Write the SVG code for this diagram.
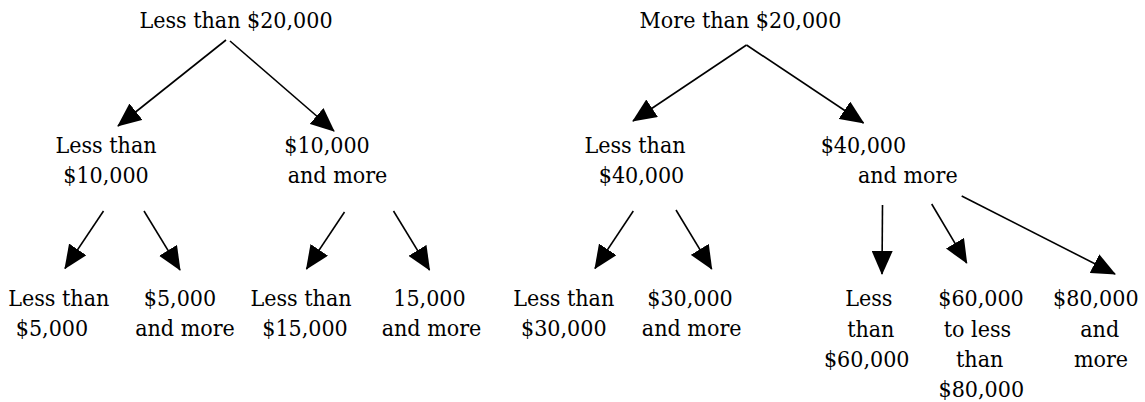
<svg xmlns="http://www.w3.org/2000/svg" width="1145" height="402" viewBox="0 0 1145 402">
  <style>
    text { font-family: 'DejaVu Serif Condensed', 'DejaVu Serif', serif; font-stretch: condensed; font-size: 23px; fill: #000; text-anchor: middle; }
    .edge { stroke: #000; stroke-width: 1.6; fill: none; marker-end: url(#arrow); }
  </style>
  <defs>
    <marker id="arrow" viewBox="0 0 24 21" refX="23" refY="10.5" markerWidth="24" markerHeight="21" markerUnits="userSpaceOnUse" orient="auto">
      <path d="M0,0 L24,10.5 L0,21 Z" fill="#000"/>
    </marker>
  </defs>
  <rect width="1145" height="402" fill="#fff"/>

  <g id="connectors">
    <line class="edge" x1="226" y1="40" x2="118" y2="126"/>
    <line class="edge" x1="230" y1="41" x2="334" y2="131"/>
    <line class="edge" x1="746.5" y1="45" x2="633" y2="121"/>
    <line class="edge" x1="746.5" y1="45" x2="863.5" y2="123"/>
    <line class="edge" x1="103.5" y1="211" x2="65" y2="268.5"/>
    <line class="edge" x1="144" y1="211" x2="180" y2="270"/>
    <line class="edge" x1="344.5" y1="212" x2="306.5" y2="269"/>
    <line class="edge" x1="393.5" y1="211" x2="429.5" y2="270"/>
    <line class="edge" x1="633.3" y1="211" x2="595" y2="268.5"/>
    <line class="edge" x1="676" y1="210" x2="711.7" y2="269"/>
    <line class="edge" x1="882.5" y1="205" x2="882" y2="274"/>
    <line class="edge" x1="931.7" y1="204" x2="966.7" y2="263"/>
    <line class="edge" x1="961.7" y1="196" x2="1115" y2="274"/>
  </g>

  <g id="n_lt20"><text x="236" y="28">Less than $20,000</text></g>
  <g id="n_mt20"><text x="740.5" y="28">More than $20,000</text></g>

  <g id="n_lt10"><text x="106" y="153">Less than</text><text x="106" y="183">$10,000</text></g>
  <g id="n_ge10"><text x="327" y="153">$10,000</text><text x="337.5" y="183">and more</text></g>
  <g id="n_lt40"><text x="635" y="153">Less than</text><text x="641.5" y="183">$40,000</text></g>
  <g id="n_ge40"><text x="863.4" y="153">$40,000</text><text x="907.8" y="183">and more</text></g>

  <g id="n_lt5"><text x="58.8" y="305.5">Less than</text><text x="52" y="336">$5,000</text></g>
  <g id="n_ge5"><text x="180" y="305.5">$5,000</text><text x="185" y="336">and more</text></g>
  <g id="n_lt15"><text x="301" y="305.5">Less than</text><text x="305" y="336">$15,000</text></g>
  <g id="n_ge15"><text x="429.5" y="305.5">15,000</text><text x="431.5" y="336">and more</text></g>
  <g id="n_lt30"><text x="563.7" y="305.5">Less than</text><text x="563.8" y="336">$30,000</text></g>
  <g id="n_ge30"><text x="690" y="305.5">$30,000</text><text x="691.7" y="336">and more</text></g>

  <g id="n_lt60"><text x="868.8" y="305.5">Less</text><text x="870.8" y="336.5">than</text><text x="866.7" y="367">$60,000</text></g>
  <g id="n_60to80"><text x="981" y="305.5">$60,000</text><text x="977.5" y="336.5">to less</text><text x="979.7" y="367">than</text><text x="981.3" y="397">$80,000</text></g>
  <g id="n_ge80"><text x="1095.8" y="305.5">$80,000</text><text x="1099.7" y="336.5">and</text><text x="1101" y="367">more</text></g>
</svg>
